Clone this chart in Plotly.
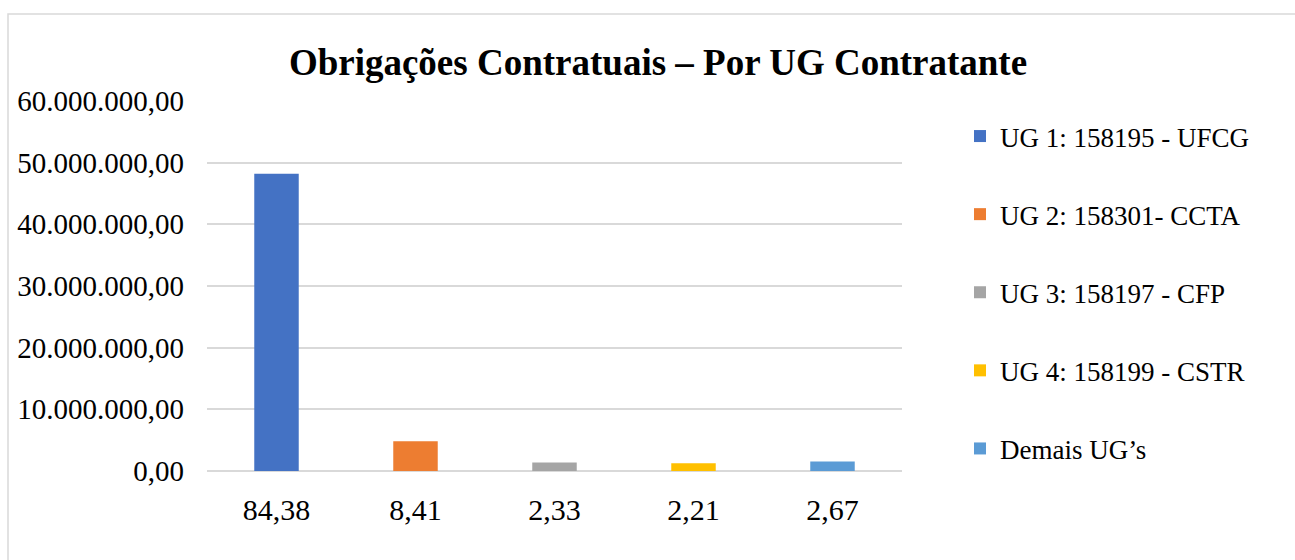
import plotly.graph_objects as go

categories = ["84,38", "8,41", "2,33", "2,21", "2,67"]
series_names = ["UG 1: 158195 - UFCG", "UG 2: 158301- CCTA", "UG 3: 158197 - CFP",
                "UG 4: 158199 - CSTR", "Demais UG’s"]
values = [48200000, 4820000, 1380000, 1260000, 1560000]
colors = ["#4472C4", "#ED7D31", "#A5A5A5", "#FFC000", "#5B9BD5"]
title_text = "Obrigações Contratuais – Por UG Contratante"

W, H = 1295, 560
L, R, T, B = 207, 902, 101, 471  # plot area in pixels

FONT = "Liberation Serif, Times New Roman, serif"

fig = go.Figure()
for i, (name, cat, val, col) in enumerate(zip(series_names, categories, values, colors)):
    fig.add_trace(go.Bar(
        x=[cat], y=[val], name=name, marker_color=col, width=0.32,
        legendgroup=f"g{i}", marker_line_width=0,
    ))

def px_x(px):
    return (px - L) / (R - L)

def px_y(py):
    return 1 - (py - T) / (B - T)

fig.update_layout(
    width=W, height=H,
    margin=dict(l=L, r=W - R, t=T, b=H - B, pad=0),
    paper_bgcolor="white", plot_bgcolor="white",
    separators=",.",
    barmode="overlay",
    font=dict(family=FONT, color="black"),
    title=dict(text=f"<b>{title_text}</b>", font=dict(family=FONT, size=37, color="black"),
               x=658 / W, xref="container", xanchor="center",
               y=1 - 62 / H, yref="container", yanchor="middle"),
    xaxis=dict(type="category", categoryorder="array", categoryarray=categories,
               showgrid=False, showline=False, zeroline=False, ticks="",
               tickfont=dict(family=FONT, size=30, color="black"),
               ticklabelstandoff=18),
    yaxis=dict(range=[0, 60000000], tickvals=[0, 10e6, 20e6, 30e6, 40e6, 50e6, 60e6],
               tickformat=",.2f", showgrid=True, gridcolor="#D9D9D9", gridwidth=1.8,
               zeroline=True, zerolinecolor="#D9D9D9", zerolinewidth=1.8,
               showline=False, ticks="",
               tickfont=dict(family=FONT, size=29, color="black"),
               ticklabelstandoff=22),
    legend=dict(x=px_x(960), xanchor="left", y=px_y(112), yanchor="top",
                font=dict(family=FONT, size=27, color="black"),
                traceorder="grouped", tracegroupgap=40,
                bgcolor="rgba(0,0,0,0)", itemclick=False),
    showlegend=True,
    shapes=[dict(type="rect", xref="paper", yref="paper",
                 x0=px_x(8), x1=px_x(1310), y0=px_y(580), y1=px_y(14),
                 line=dict(color="#D9D9D9", width=1.5), fillcolor="rgba(0,0,0,0)",
                 layer="below")],
)

fig.write_html("out.html", config={"displayModeBar": False},
               post_script="document.body.style.margin='0';document.body.style.overflow='hidden';")
